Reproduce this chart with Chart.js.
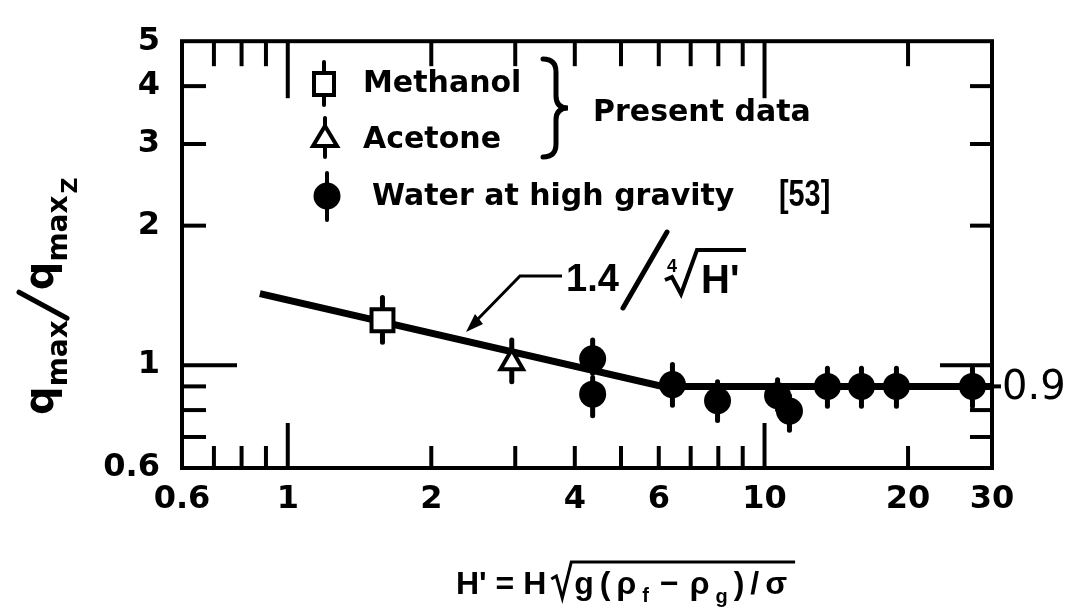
<!DOCTYPE html>
<html><head><meta charset="utf-8">
<script src="https://cdn.jsdelivr.net/npm/chart.js@4.4.0/dist/chart.umd.min.js"></script>
<style>html,body{margin:0;padding:0;background:#fff;overflow:hidden}</style>
</head><body>
<canvas id="c" width="1073" height="615" style="width:1073px;height:615px;display:block"></canvas>
<script>
// ---- tick values / labels ----
const xTicks = [0.6, 1, 2, 4, 6, 10, 20, 30];
const xTickLabels = ['0.6', '1', '2', '4', '6', '10', '20', '30'];
const yTicks = [0.6, 1, 2, 3, 4, 5];
const yTickLabels = ['0.6', '1', '2', '3', '4', '5'];
const xMinorTicks = [0.7, 0.8, 0.9, 2, 3, 4, 5, 6, 7, 8, 9, 20];
const xMajorTicks = [1, 10];
const yMinorLeft = [0.7, 0.8, 0.9, 2, 3, 4];
const yMinorRight = [0.7, 0.8, 2, 3, 4];
const yMajorTicks = [1];

// ---- correlation line 1.4/H'^(1/4), then 0.9 ----
const fitH = [0.874, 6.11, 30];
const fitQ = [1.427, 0.90, 0.90];

// ---- data ----
const methanolH = [1.58];
const methanolQ = [1.25];
const methanolLo = [1.12];
const methanolHi = [1.40];

const acetoneH = [2.95];
const acetoneQ = [1.012];
const acetoneLo = [0.921];
const acetoneHi = [1.133];

const waterH  = [4.36, 4.36, 6.41, 7.97, 10.65, 11.28, 13.55, 15.97, 18.91, 27.3];
const waterQ  = [1.032, 0.866, 0.908, 0.838, 0.859, 0.796, 0.90, 0.90, 0.90, 0.90];
const waterLo = [0.96, 0.778, 0.819, 0.760, 0.80, 0.724, 0.815, 0.815, 0.815, 0.815];
const waterHi = [1.133, 0.94, 1.003, 0.921, 0.930, 0.86, 0.985, 0.985, 0.985, 0.985];

const pts = (xs, ys) => xs.map((x, i) => ({x: x, y: ys[i]}));

const errSets = [
  [methanolH, methanolLo, methanolHi],
  [acetoneH, acetoneLo, acetoneHi],
  [waterH, waterLo, waterHi]
];

const tickFont = {family: 'DejaVu Sans', size: 32, weight: 'bold'};

const decor = {
  id: 'decor',
  beforeDatasetsDraw(chart) {
    const {ctx, scales: {x, y}} = chart;
    ctx.save();
    ctx.strokeStyle = '#000';
    ctx.lineWidth = 5;
    ctx.lineCap = 'round';
    errSets.forEach(([hs, lo, hi]) => {
      hs.forEach((h, i) => {
        const px = x.getPixelForValue(h);
        ctx.beginPath();
        ctx.moveTo(px, y.getPixelForValue(lo[i]));
        ctx.lineTo(px, y.getPixelForValue(hi[i]));
        ctx.stroke();
      });
    });
    ctx.restore();
  },
  afterDraw(chart) {
    const {ctx, chartArea: a, scales: {x, y}} = chart;
    ctx.save();
    ctx.strokeStyle = '#000';
    ctx.fillStyle = '#000';
    // frame
    ctx.lineWidth = 4;
    ctx.lineCap = 'butt';
    ctx.strokeRect(a.left, a.top, a.right - a.left, a.bottom - a.top);
    // ticks
    ctx.lineWidth = 4;
    const vline = (px, y0, y1) => { ctx.beginPath(); ctx.moveTo(px, y0); ctx.lineTo(px, y1); ctx.stroke(); };
    const hline = (py, x0, x1) => { ctx.beginPath(); ctx.moveTo(x0, py); ctx.lineTo(x1, py); ctx.stroke(); };
    xMinorTicks.forEach(v => {
      const px = x.getPixelForValue(v);
      vline(px, a.top, a.top + 25);
      vline(px, a.bottom, a.bottom - 22);
    });
    xMajorTicks.forEach(v => {
      const px = x.getPixelForValue(v);
      vline(px, a.top, a.top + 57);
      vline(px, a.bottom, a.bottom - 45);
    });
    yMinorLeft.forEach(v => hline(y.getPixelForValue(v), a.left, a.left + 24));
    yMinorRight.forEach(v => hline(y.getPixelForValue(v), a.right, a.right - 22));
    yMajorTicks.forEach(v => {
      const py = y.getPixelForValue(v);
      hline(py, a.left, a.left + 55);
      hline(py, a.right, a.right - 52);
    });
    // 0.9 outside tick + label
    const p09 = y.getPixelForValue(0.9);
    hline(p09, a.right, a.right + 9);
    ctx.font = '40px "DejaVu Sans"';
    ctx.textBaseline = 'middle';
    ctx.textAlign = 'left';
    ctx.fillText('0.9', a.right + 10, p09 + 2);

    // ---- legend ----
    ctx.lineWidth = 4;
    ctx.lineCap = 'round';
    // methanol marker
    vline(324, 62, 105);
    ctx.fillStyle = '#fff';
    ctx.fillRect(314, 73, 20, 22);
    ctx.strokeRect(314, 73, 20, 22);
    // acetone marker
    ctx.lineWidth = 4;
    vline(325, 118, 157);
    ctx.beginPath();
    ctx.moveTo(325, 126); ctx.lineTo(337, 146); ctx.lineTo(313, 146); ctx.closePath();
    ctx.fill(); ctx.stroke();
    // water marker
    ctx.fillStyle = '#000';
    vline(327, 173, 220);
    ctx.beginPath(); ctx.arc(327, 196, 13.5, 0, Math.PI * 2); ctx.fill();

    ctx.font = 'bold 30px "DejaVu Sans"';
    ctx.textBaseline = 'middle';
    ctx.fillText('Methanol', 363, 84);
    ctx.fillText('Acetone', 363, 140);
    ctx.fillText('Water at high gravity', 372, 197);
    ctx.fillText('Present data', 593, 113);
    ctx.save();
    ctx.translate(779, 196);
    ctx.scale(0.8, 1);
    ctx.font = 'bold 36px "Liberation Sans"';
    ctx.fillText('[53]', 0, 0);
    ctx.restore();
    // brace
    ctx.lineWidth = 5;
    ctx.lineCap = 'round';
    ctx.beginPath();
    ctx.moveTo(543, 59);
    ctx.quadraticCurveTo(556, 59, 556, 72);
    ctx.lineTo(556, 96);
    ctx.quadraticCurveTo(556, 108, 568, 108);
    ctx.quadraticCurveTo(556, 108, 556, 120);
    ctx.lineTo(556, 144);
    ctx.quadraticCurveTo(556, 157, 543, 157);
    ctx.stroke();

    // ---- annotation 1.4 / 4th-root H' ----
    ctx.lineWidth = 3;
    ctx.lineCap = 'butt';
    ctx.beginPath();
    ctx.moveTo(476, 321); ctx.lineTo(520, 276); ctx.lineTo(562, 276);
    ctx.stroke();
    ctx.beginPath();
    ctx.moveTo(466, 332); ctx.lineTo(483, 324); ctx.lineTo(475, 314); ctx.closePath();
    ctx.fill();
    ctx.font = 'bold 38px "Liberation Sans"';
    ctx.textBaseline = 'alphabetic';
    ctx.fillText('1.4', 566, 291);
    ctx.lineWidth = 5;
    ctx.lineCap = 'round';
    ctx.beginPath(); ctx.moveTo(623, 308); ctx.lineTo(667, 232); ctx.stroke();
    ctx.font = 'bold 18px "Liberation Sans"';
    ctx.fillText('4', 667, 272);
    ctx.lineWidth = 4;
    ctx.lineJoin = 'miter';
    ctx.lineCap = 'butt';
    ctx.beginPath();
    ctx.moveTo(665, 280); ctx.lineTo(672, 277); ctx.lineTo(681, 294); ctx.lineTo(697, 250); ctx.lineTo(746, 250);
    ctx.stroke();
    ctx.font = 'bold 40px "Liberation Sans"';
    ctx.fillText("H'", 701, 293);

    // ---- x title ----
    let tx = 456;
    const bl = 594;
    ctx.font = 'bold 32px "Liberation Sans"';
    ctx.fillText("H' = H", tx, bl);
    tx += ctx.measureText("H' = H").width + 5;
    const rStart = tx;
    tx += 23;
    const pieces = [['g', 32, 0], ['(', 32, 0], ['\u03C1', 32, 0], ['f', 20, 8], ['\u2212', 32, 0], ['\u03C1', 32, 0], ['g', 20, 9], [')', 32, 0], ['/', 32, 0], ['\u03C3', 32, 0]];
    pieces.forEach(([t, s, dy], i) => {
      ctx.font = 'bold ' + s + 'px "Liberation Sans"';
      ctx.fillText(t, tx, bl + dy);
      tx += ctx.measureText(t).width + (t === '\u2212' || pieces[i + 1] && pieces[i + 1][0] === '\u2212' ? 11 : 6);
    });
    ctx.lineWidth = 3;
    ctx.beginPath();
    ctx.moveTo(rStart, 579); ctx.lineTo(rStart + 5, 576); ctx.lineTo(rStart + 11, 598); ctx.lineTo(rStart + 20, 562); ctx.lineTo(tx + 2, 562);
    ctx.stroke();

    // ---- y title (rotated) ----
    ctx.translate(45, 290);
    ctx.rotate(-Math.PI / 2);
    let lx = -125;
    const b = 8;
    const q = () => {
      ctx.font = 'bold 40px "DejaVu Sans"';
      ctx.fillText('q', lx, b);
      lx += ctx.measureText('q').width;
      ctx.font = 'bold 28px "DejaVu Sans"';
      ctx.fillText('max', lx, b + 14);
      lx += ctx.measureText('max').width;
    };
    q();
    ctx.lineWidth = 5;
    ctx.lineCap = 'round';
    ctx.beginPath(); ctx.moveTo(lx + 2, b + 14); ctx.lineTo(lx + 28, b - 34); ctx.stroke();
    lx += 30;
    q();
    ctx.font = 'bold 22px "DejaVu Sans"';
    ctx.fillText('Z', lx + 2, b + 24);
    ctx.restore();
  }
};

new Chart(document.getElementById('c'), {
  type: 'scatter',
  data: {
    datasets: [
      {label: 'fit', data: pts(fitH, fitQ), showLine: true, borderColor: '#000', borderWidth: 7, pointRadius: 0, order: 10, tension: 0},
      {label: 'Water at high gravity [53]', data: pts(waterH, waterQ), pointStyle: 'circle', pointRadius: 13.5, backgroundColor: '#000', borderColor: '#000', borderWidth: 0, order: 3},
      {label: 'Acetone', data: pts(acetoneH, acetoneQ), pointStyle: 'triangle', pointRadius: 13, backgroundColor: '#fff', borderColor: '#000', borderWidth: 4, order: 2},
      {label: 'Methanol', data: pts(methanolH, methanolQ), pointStyle: 'rect', pointRadius: 15.5, backgroundColor: '#fff', borderColor: '#000', borderWidth: 4, order: 1}
    ]
  },
  options: {
    responsive: false,
    animation: false,
    devicePixelRatio: 1,
    layout: {padding: {left: 0, right: 81, top: 18, bottom: 0}},
    plugins: {legend: {display: false}, tooltip: {enabled: false}},
    scales: {
      x: {
        type: 'logarithmic', min: 0.6, max: 30,
        afterBuildTicks: s => { s.ticks = xTicks.map(v => ({value: v})); },
        afterFit: s => { s.height = 147; },
        grid: {display: false, drawTicks: false},
        border: {display: false},
        ticks: {autoSkip: false, maxRotation: 0, color: '#000', font: tickFont, padding: 12,
          callback: (v) => { const i = xTicks.indexOf(v); return i >= 0 ? xTickLabels[i] : ''; }}
      },
      y: {
        type: 'logarithmic', min: 0.6, max: 5,
        afterBuildTicks: s => { s.ticks = yTicks.map(v => ({value: v})); },
        afterFit: s => { s.width = 182; },
        grid: {display: false, drawTicks: false},
        border: {display: false},
        ticks: {autoSkip: false, color: '#000', font: tickFont, padding: 22,
          callback: (v) => { const i = yTicks.indexOf(v); return i >= 0 ? yTickLabels[i] : ''; }}
      }
    }
  },
  plugins: [decor]
});
</script>
</body></html>
